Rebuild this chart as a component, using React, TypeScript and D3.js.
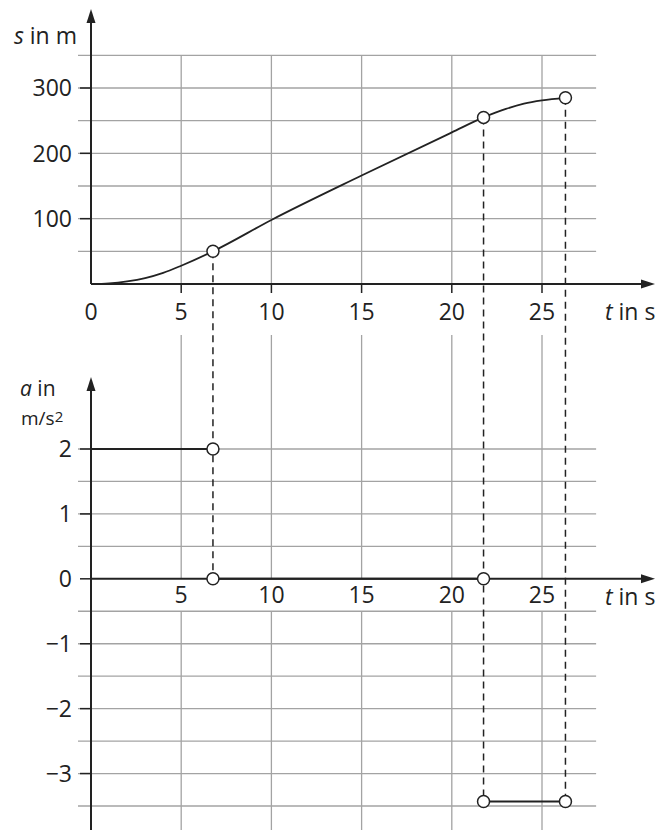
import React from 'react';
import * as d3 from 'd3';

// s(t)
const sTimes = [0, 1, 2, 3, 4, 5, 6.76, 10, 15, 20, 21.76, 23, 24, 25, 26.3];
const sValues = [0, 1, 4, 9, 17, 28, 50, 98, 166, 232, 255, 268, 276, 281, 285];

// a(t) segments
const aStarts = [0, 6.76, 21.76];
const aEnds = [6.76, 21.76, 26.3];
const aValues = [2, 0, -3.43];

// marked points
const markTimes = [6.76, 21.76, 26.3];
const markS = [50, 255, 285];
const aMarkTimes = [6.76, 6.76, 21.76, 21.76, 26.3];
const aMarkValues = [2, 0, 0, -3.43, -3.43];
// dashed drop lines: from s point down to a value
const dropA = [0, -3.43, -3.43];

const tTicks = [5, 10, 15, 20, 25];
const sTicks = [100, 200, 300];
const sGrid = [50, 100, 150, 200, 250, 300, 350];
const aTicks = [2, 1, 0, -1, -2, -3];
const aGrid = [2, 1.5, 1, 0.5, -0.5, -1, -1.5, -2, -2.5, -3, -3.5];

const W = 660;
const H = 830;
const FONT = "'Open Sans', sans-serif";
const GRID = '#a3a3a3';
const INK = '#222';
const FS = 23;

const fmt = (v: number) => (v < 0 ? '\u2212' + Math.abs(v) : String(v));

export default function App() {
  const x = d3.scaleLinear().domain([0, 25]).range([91, 542]);
  const ys = d3.scaleLinear().domain([0, 300]).range([284, 88]);
  const ya = d3.scaleLinear().domain([-3.5, 2]).range([806, 449]);

  const x0 = x(0);
  const gridLeft = x0 - 13;
  const gridRight = x(28);
  const arrowX = 655;

  const sLine = d3
    .line<number>()
    .x((d, i) => x(sTimes[i]))
    .y((d) => ys(d))
    .curve(d3.curveMonotoneX);

  const arrowUp = (cx: number, tip: number) =>
    `M${cx},${tip} L${cx - 4.5},${tip + 14} L${cx + 4.5},${tip + 14} Z`;
  const arrowRight = (tip: number, cy: number) =>
    `M${tip},${cy} L${tip - 14},${cy - 4.5} L${tip - 14},${cy + 4.5} Z`;

  return (
    <svg
      width={W}
      height={H}
      style={{ position: 'absolute', left: 0, top: 0, background: '#fff' }}
      fontFamily={FONT}
    >
      {/* ---------- top chart: s(t) ---------- */}
      <g>
        {sGrid.map((v) => (
          <line key={'sg' + v} x1={gridLeft} x2={gridRight} y1={ys(v)} y2={ys(v)} stroke={GRID} strokeWidth={1.3} />
        ))}
        {tTicks.map((t) => (
          <line key={'tg' + t} x1={x(t)} x2={x(t)} y1={ys(350)} y2={ys(0)} stroke={GRID} strokeWidth={1.3} />
        ))}
        {tTicks.map((t) => (
          <line key={'tt' + t} x1={x(t)} x2={x(t)} y1={ys(0)} y2={ys(0) + 9} stroke={INK} strokeWidth={1.5} />
        ))}
        {sTicks.map((v) => (
          <line key={'st' + v} x1={x0 - 11} x2={x0} y1={ys(v)} y2={ys(v)} stroke={INK} strokeWidth={1.5} />
        ))}
        {sTicks.map((v) => (
          <text key={'sl' + v} x={x0 - 19} y={ys(v)} dy="0.36em" textAnchor="end" fontSize={FS} fill={INK}>
            {v}
          </text>
        ))}
        {[0, ...tTicks].map((t) => (
          <text key={'tl' + t} x={x(t)} y={312} dy="0.36em" textAnchor="middle" fontSize={FS} fill={INK}>
            {t}
          </text>
        ))}
        {/* axes */}
        <line x1={x0} x2={x0} y1={22} y2={ys(0)} stroke={INK} strokeWidth={2} />
        <path d={arrowUp(x0, 9)} fill={INK} />
        <line x1={x0} x2={arrowX - 10} y1={ys(0)} y2={ys(0)} stroke={INK} strokeWidth={2} />
        <path d={arrowRight(arrowX, ys(0))} fill={INK} />
        <text x={77} y={36} dy="0.36em" textAnchor="end" fontSize={FS} fill={INK}>
          <tspan fontStyle="italic">s</tspan> in m
        </text>
        <text x={605} y={312} dy="0.36em" fontSize={FS} fill={INK}>
          <tspan fontStyle="italic">t</tspan> in s
        </text>
        <path d={sLine(sValues) || ''} fill="none" stroke={INK} strokeWidth={1.8} />
      </g>

      {/* ---------- bottom chart: a(t) ---------- */}
      <g>
        {aGrid.map((v) => (
          <line key={'ag' + v} x1={gridLeft} x2={gridRight} y1={ya(v)} y2={ya(v)} stroke={GRID} strokeWidth={1.3} />
        ))}
        {tTicks.map((t) => (
          <g key={'atg' + t}>
            <line x1={x(t)} x2={x(t)} y1={335} y2={ya(0)} stroke={GRID} strokeWidth={1.3} />
            <line x1={x(t)} x2={x(t)} y1={ya(-0.5)} y2={H} stroke={GRID} strokeWidth={1.3} />
          </g>
        ))}
        {aTicks.map((v) => (
          <line key={'at' + v} x1={x0 - 11} x2={x0} y1={ya(v)} y2={ya(v)} stroke={INK} strokeWidth={1.5} />
        ))}
        {aTicks.map((v) => (
          <text key={'al' + v} x={x0 - 19} y={ya(v)} dy="0.36em" textAnchor="end" fontSize={FS} fill={INK}>
            {fmt(v)}
          </text>
        ))}
        {tTicks.map((t) => (
          <text key={'atl' + t} x={x(t)} y={595} dy="0.36em" textAnchor="middle" fontSize={FS} fill={INK}>
            {t}
          </text>
        ))}
        <line x1={x0} x2={x0} y1={390} y2={H} stroke={INK} strokeWidth={2} />
        <path d={arrowUp(x0, 377)} fill={INK} />
        <line x1={x0} x2={arrowX - 10} y1={ya(0)} y2={ya(0)} stroke={INK} strokeWidth={2} />
        <path d={arrowRight(arrowX, ya(0))} fill={INK} />
        <text x={20} y={388} dy="0.36em" fontSize={21} fill={INK}>
          <tspan fontStyle="italic">a</tspan> in
        </text>
        <text x={21} y={418} dy="0.36em" fontSize={19} fill={INK}>
          m/s<tspan fontSize={15} dy="-3">2</tspan>
        </text>
        <text x={605} y={597} dy="0.36em" fontSize={FS} fill={INK}>
          <tspan fontStyle="italic">t</tspan> in s
        </text>
        {aValues.map((v, i) => (
          <line
            key={'aseg' + i}
            x1={x(aStarts[i])}
            x2={x(aEnds[i])}
            y1={ya(v)}
            y2={ya(v)}
            stroke={INK}
            strokeWidth={2}
          />
        ))}
      </g>

      {/* dashed drop lines */}
      {markTimes.map((t, i) => (
        <line
          key={'drop' + i}
          x1={x(t)}
          x2={x(t)}
          y1={ys(markS[i])}
          y2={ya(dropA[i])}
          stroke={INK}
          strokeWidth={1.5}
          strokeDasharray="7,5"
        />
      ))}

      {/* open circle markers */}
      {markTimes.map((t, i) => (
        <circle key={'ms' + i} cx={x(t)} cy={ys(markS[i])} r={6} fill="#fff" stroke={INK} strokeWidth={1.5} />
      ))}
      {aMarkTimes.map((t, i) => (
        <circle key={'ma' + i} cx={x(t)} cy={ya(aMarkValues[i])} r={6} fill="#fff" stroke={INK} strokeWidth={1.5} />
      ))}
    </svg>
  );
}
